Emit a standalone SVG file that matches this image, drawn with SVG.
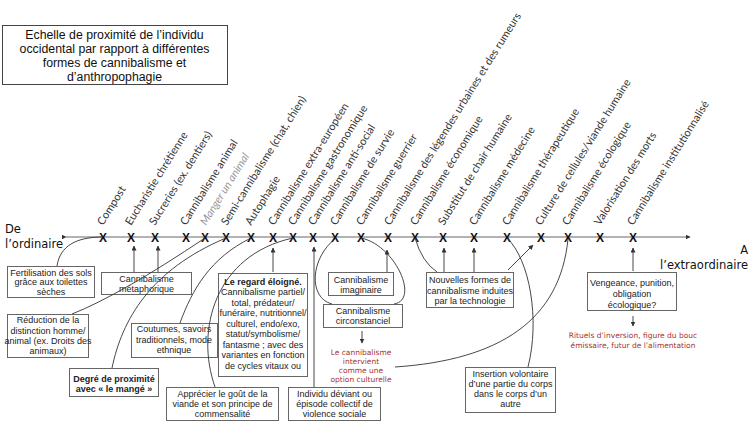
<svg xmlns="http://www.w3.org/2000/svg" width="754" height="424" viewBox="0 0 754 424">
<style>
.bg{fill:#fff}
.box{fill:#fff;stroke:#666;stroke-width:1}
.tbox{fill:#fff;stroke:#444;stroke-width:1}
.t{font-family:"Liberation Sans",Arial,sans-serif;font-size:9px;fill:#222;text-anchor:middle}
.b{font-weight:bold}
.ttl{font-family:"Liberation Sans",Arial,sans-serif;font-size:12.3px;fill:#111;text-anchor:middle}
.end{font-family:"DejaVu Sans",sans-serif;font-size:11.5px;fill:#111}
.red{font-family:"DejaVu Sans",sans-serif;font-size:7.5px;fill:#a8322d;text-anchor:middle}
.lab{font-family:Lato,"Open Sans",sans-serif;font-size:11px;fill:#333}
.gray{fill:#999;font-style:italic}
.x{font-family:"Liberation Sans",Arial,sans-serif;font-size:12px;font-weight:bold;fill:#111;text-anchor:middle}
.c{fill:none;stroke:#333;stroke-width:0.9}
.ax{fill:none;stroke:#666;stroke-width:1}
</style>
<defs>
<marker id="ah" viewBox="0 0 10 10" refX="9" refY="5" markerWidth="5" markerHeight="5" markerUnits="userSpaceOnUse" orient="auto">
<path d="M0,0 L10,5 L0,10 z" fill="#333"/>
</marker>
</defs>
<rect class="bg" x="0" y="0" width="754" height="424"/>

<g id="title">
<rect class="tbox" x="2.5" y="25.5" width="225" height="59"/>
<text class="ttl" x="114.5" y="39">Echelle de proximité de l’individu</text>
<text class="ttl" x="114.5" y="53">occidental par rapport à différentes</text>
<text class="ttl" x="114.5" y="67">formes de cannibalisme et</text>
<text class="ttl" x="114.5" y="80.5">d’anthropophagie</text>
</g>

<g id="axis">
<path class="ax" d="M66,237 L690,237" marker-start="url(#ah)" marker-end="url(#ah)"/>
<text class="end" x="5" y="233">De</text>
<text class="end" x="5" y="248">l’ordinaire</text>
<text class="end" x="748" y="254" text-anchor="end">A</text>
<text class="end" x="748" y="269" text-anchor="end">l’extraordinaire</text>
</g>

<g id="scale-points">
<text class="x" x="103" y="241.5">X</text>
<text class="x" x="131" y="241.5">X</text>
<text class="x" x="155" y="241.5">X</text>
<text class="x" x="186" y="241.5">X</text>
<text class="x" x="205" y="241.5">X</text>
<text class="x" x="226" y="241.5">X</text>
<text class="x" x="251" y="241.5">X</text>
<text class="x" x="273" y="241.5">X</text>
<text class="x" x="293" y="241.5">X</text>
<text class="x" x="313" y="241.5">X</text>
<text class="x" x="335" y="241.5">X</text>
<text class="x" x="361" y="241.5">X</text>
<text class="x" x="388" y="241.5">X</text>
<text class="x" x="415" y="241.5">X</text>
<text class="x" x="443" y="241.5">X</text>
<text class="x" x="474" y="241.5">X</text>
<text class="x" x="507" y="241.5">X</text>
<text class="x" x="541" y="241.5">X</text>
<text class="x" x="568" y="241.5">X</text>
<text class="x" x="600" y="241.5">X</text>
<text class="x" x="633" y="241.5">X</text>
</g>

<g id="scale-labels">
<text class="lab" transform="translate(103,226) rotate(-58)">Compost</text>
<text class="lab" transform="translate(131,226) rotate(-58)">Eucharistie chrétienne</text>
<text class="lab" transform="translate(155,226) rotate(-58)">Sucreries (ex. dentiers)</text>
<text class="lab" transform="translate(186,226) rotate(-58)">Cannibalisme animal</text>
<text class="lab gray" transform="translate(206,226) rotate(-58)">Manger un animal</text>
<text class="lab" transform="translate(227,226) rotate(-58)">Semi-cannibalisme (chat, chien)</text>
<text class="lab" transform="translate(251,226) rotate(-58)">Autophagie</text>
<text class="lab" transform="translate(274,226) rotate(-58)">Cannibalisme extra-européen</text>
<text class="lab" transform="translate(294,226) rotate(-58)">Cannibalisme gastronomique</text>
<text class="lab" transform="translate(314,226) rotate(-58)">Cannibalisme anti-social</text>
<text class="lab" transform="translate(336,226) rotate(-58)">Cannibalisme de survie</text>
<text class="lab" transform="translate(362,226) rotate(-58)">Cannibalisme guerrier</text>
<text class="lab" transform="translate(390,226) rotate(-58)">Cannibalisme des légendes urbaines et des rumeurs</text>
<text class="lab" transform="translate(416,226) rotate(-58)">Cannibalisme économique</text>
<text class="lab" transform="translate(444,226) rotate(-58)">Substitut de chair humaine</text>
<text class="lab" transform="translate(475,226) rotate(-58)">Cannibalisme médecine</text>
<text class="lab" transform="translate(508,226) rotate(-58)">Cannibalisme thérapeutique</text>
<text class="lab" transform="translate(541,226) rotate(-58)">Culture de cellules/viande humaine</text>
<text class="lab" transform="translate(568,226) rotate(-58)">Cannibalisme écologique</text>
<text class="lab" transform="translate(600,226) rotate(-58)">Valorisation des morts</text>
<text class="lab" transform="translate(633,226) rotate(-58)">Cannibalisme institutionnalisé</text>
</g>

<g id="n-fertilisation">
<rect class="box" x="7.5" y="266.5" width="87" height="31"/>
<text class="t" x="51" y="275.5">Fertilisation des sols</text>
<text class="t" x="51" y="285">grâce aux toilettes</text>
<text class="t" x="51" y="294.5">sèches</text>
</g>
<g id="n-metaphorique">
<rect class="box" x="101.5" y="272.5" width="90" height="22"/>
<text class="t" x="146.5" y="282">Cannibalisme</text>
<text class="t" x="146.5" y="291.5">métaphorique</text>
</g>
<g id="n-reduction">
<rect class="box" x="7.5" y="314.5" width="81" height="43"/>
<text class="t" x="48" y="323">Réduction de la</text>
<text class="t" x="48" y="333.5">distinction homme/</text>
<text class="t" x="48" y="344">animal (ex. Droits des</text>
<text class="t" x="48" y="354">animaux)</text>
</g>
<g id="n-degre">
<rect class="box" x="69.5" y="368.5" width="89" height="28"/>
<text class="t b" x="114" y="382">Degré de proximité</text>
<text class="t b" x="114" y="391.5">avec « le mangé »</text>
</g>
<g id="n-coutumes">
<rect class="box" x="131.5" y="323.5" width="86" height="34"/>
<text class="t" x="174" y="332">Coutumes, savoirs</text>
<text class="t" x="174" y="343">traditionnels, mode</text>
<text class="t" x="174" y="353">ethnique</text>
</g>
<g id="n-regard">
<rect class="box" x="218.5" y="273.5" width="89" height="103"/>
<text class="t b" x="263" y="284.5">Le regard éloigné.</text>
<text class="t" x="263" y="295">Cannibalisme partiel/</text>
<text class="t" x="263" y="305.5">total, prédateur/</text>
<text class="t" x="263" y="316">funéraire, nutritionnel/</text>
<text class="t" x="263" y="326.5">culturel, endo/exo,</text>
<text class="t" x="263" y="337">statut/symbolisme/</text>
<text class="t" x="263" y="347.5">fantasme ; avec des</text>
<text class="t" x="263" y="358">variantes en fonction</text>
<text class="t" x="263" y="368.5">de cycles vitaux ou</text>
</g>
<g id="n-apprecier">
<rect class="box" x="166.5" y="387.5" width="112" height="33"/>
<text class="t" x="222.5" y="396.5">Apprécier le goût de la</text>
<text class="t" x="222.5" y="406.5">viande et son principe de</text>
<text class="t" x="222.5" y="416.5">commensalité</text>
</g>
<g id="n-individu">
<rect class="box" x="288.5" y="387.5" width="92" height="33"/>
<text class="t" x="334.5" y="396.5">Individu déviant ou</text>
<text class="t" x="334.5" y="406.5">épisode collectif de</text>
<text class="t" x="334.5" y="416.5">violence sociale</text>
</g>
<g id="n-imaginaire">
<rect class="box" x="328.5" y="272.5" width="65" height="23"/>
<text class="t" x="361" y="283">Cannibalisme</text>
<text class="t" x="361" y="293">imaginaire</text>
</g>
<g id="n-circonstanciel">
<rect class="box" x="323.5" y="304.5" width="79" height="23"/>
<text class="t" x="363" y="314">Cannibalisme</text>
<text class="t" x="363" y="324">circonstanciel</text>
</g>
<g id="n-option">
<text class="red" x="361" y="354.5">Le cannibalisme</text>
<text class="red" x="361" y="363.5">intervient</text>
<text class="red" x="361" y="372.5">comme une</text>
<text class="red" x="361" y="381.5">option culturelle</text>
</g>
<g id="n-nouvelles">
<rect class="box" x="426.5" y="272.5" width="87" height="35"/>
<text class="t" x="470" y="283">Nouvelles formes de</text>
<text class="t" x="470" y="293.5">cannibalisme induites</text>
<text class="t" x="470" y="304">par la technologie</text>
</g>
<g id="n-insertion">
<rect class="box" x="465.5" y="367.5" width="90" height="45"/>
<text class="t" x="510.5" y="376.5">Insertion volontaire</text>
<text class="t" x="510.5" y="386.5">d’une partie du corps</text>
<text class="t" x="510.5" y="396.5">dans le corps d’un</text>
<text class="t" x="510.5" y="406.5">autre</text>
</g>
<g id="n-vengeance">
<rect class="box" x="587.5" y="272.5" width="89" height="38"/>
<text class="t" x="632" y="285.5">Vengeance, punition,</text>
<text class="t" x="632" y="296.5">obligation</text>
<text class="t" x="632" y="307.5">écologique?</text>
</g>
<g id="n-rituels">
<text class="red" x="633" y="337.5">Rituels d’inversion, figure du bouc</text>
<text class="red" x="633" y="347.5">émissaire, futur de l’alimentation</text>
</g>

<g id="connectors">
<path class="c" d="M57,266 C60,246 76,237 103,237"/>
<path class="c" d="M134,272 L134,246" marker-end="url(#ah)"/>
<path class="c" d="M158,272 L158,246" marker-end="url(#ah)"/>
<path class="c" d="M72,314 Q120,295 205,238"/>
<path class="c" d="M112,368 C122,320 150,270 226,238"/>
<path class="c" d="M180,323 C192,290 210,258 251,238"/>
<path class="c" d="M273,272 L273,248" marker-end="url(#ah)"/>
<path class="c" d="M215,387 C195,330 215,255 293,238"/>
<path class="c" d="M314,387 L314,247" marker-end="url(#ah)"/>
<path class="c" d="M336,238 C310,258 308,298 332,304"/>
<path class="c" d="M361,238 C395,245 420,300 394,304"/>
<path class="c" d="M387,272 L387,250" marker-end="url(#ah)"/>
<path class="c" d="M362,331 L362,343" marker-end="url(#ah)"/>
<path class="c" d="M415,238 Q422,262 437,272"/>
<path class="c" d="M444,272 L444,248" marker-end="url(#ah)"/>
<path class="c" d="M474,272 L474,248" marker-end="url(#ah)"/>
<path class="c" d="M508,270 L533,245" marker-end="url(#ah)"/>
<path class="c" d="M395,367 C500,360 560,320 568,239"/>
<path class="c" d="M528,367 C540,320 530,260 507,238"/>
<path class="c" d="M633,271 L633,248" marker-end="url(#ah)"/>
<path class="c" d="M633,316 L633,326" marker-end="url(#ah)"/>
</g>
</svg>
